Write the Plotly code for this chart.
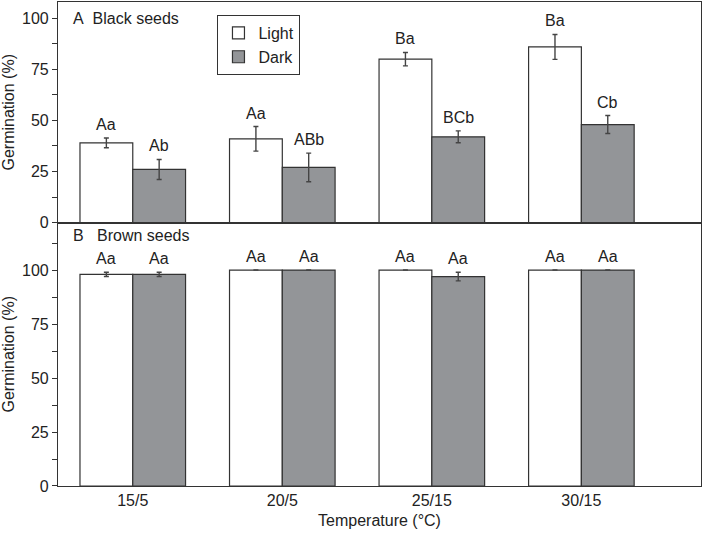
import plotly.graph_objects as go

# temperature regimes
temps = ["15/5", "20/5", "25/15", "30/15"]

# panel A: black seeds
black_light = [39, 41, 80, 86]
black_light_err = [2.4, 6, 3.3, 6.1]
black_dark = [26, 27, 42, 48]
black_dark_err = [4.9, 7, 2.9, 4.4]
black_light_lbl = ["Aa", "Aa", "Ba", "Ba"]
black_dark_lbl = ["Ab", "ABb", "BCb", "Cb"]

# panel B: brown seeds
brown_light = [98, 100, 100, 100]
brown_light_err = [1, None, None, None]
brown_dark = [98, 100, 97, 100]
brown_dark_err = [1, None, 2, None]
brown_light_lbl = ["Aa", "Aa", "Aa", "Aa"]
brown_dark_lbl = ["Aa", "Aa", "Aa", "Aa"]

FONT = "Liberation Sans, Arial, Helvetica, sans-serif"
GREY = "#939598"
EDGE = "#333333"
W = 0.353  # bar width in category units

xpos = list(range(len(temps)))
x_light = [i - W / 2 for i in xpos]
x_dark = [i + W / 2 for i in xpos]

fig = go.Figure()


def add_bars(yl, el, yd, ed, xa, ya, show):
    fig.add_trace(go.Bar(
        x=x_light, y=yl, width=W, name="Light", showlegend=show,
        marker=dict(color="white", line=dict(color=EDGE, width=1.2)),
        error_y=dict(type="data", array=el, color="#444", thickness=1.4, width=2.5),
        xaxis=xa, yaxis=ya))
    fig.add_trace(go.Bar(
        x=x_dark, y=yd, width=W, name="Dark", showlegend=show,
        marker=dict(color=GREY, line=dict(color=EDGE, width=1.2)),
        error_y=dict(type="data", array=ed, color="#444", thickness=1.4, width=2.5),
        xaxis=xa, yaxis=ya))


add_bars(black_light, black_light_err, black_dark, black_dark_err, "x", "y", True)
add_bars(brown_light, brown_light_err, brown_dark, brown_dark_err, "x2", "y2", False)

ann = []


def add_labels(xs, ys, es, lbls, xa, ya):
    for x, y, e, t in zip(xs, ys, es, lbls):
        ann.append(dict(x=x, y=y + (e or 0), xref=xa, yref=ya, text=t, showarrow=False,
                        yanchor="bottom", yshift=3, font=dict(family=FONT, size=16, color="#222")))


add_labels(x_light, black_light, black_light_err, black_light_lbl, "x", "y")
add_labels(x_dark, black_dark, black_dark_err, black_dark_lbl, "x", "y")
add_labels(x_light, brown_light, brown_light_err, brown_light_lbl, "x2", "y2")
add_labels(x_dark, brown_dark, brown_dark_err, brown_dark_lbl, "x2", "y2")

ann.append(dict(x=0.02, y=1, xref="x domain", yref="y domain", yshift=-16, xanchor="left",
                yanchor="middle", showarrow=False, text="A\u00a0\u00a0Black seeds",
                font=dict(family=FONT, size=16, color="#222")))
ann.append(dict(x=0.02, y=1, xref="x2 domain", yref="y2 domain", yshift=-13, xanchor="left",
                yanchor="middle", showarrow=False, text="B\u00a0\u00a0\u00a0Brown seeds",
                font=dict(family=FONT, size=16, color="#222")))

axis_common = dict(showline=True, linecolor=EDGE, linewidth=1.2, mirror=True,
                   showgrid=False, zeroline=False)
yaxis_common = dict(axis_common, ticks="outside", ticklen=5, tickwidth=1, tickcolor=EDGE,
                    tickvals=[0, 25, 50, 75, 100],
                    minor=dict(ticks="outside", ticklen=5, tickcolor=EDGE, dtick=12.5, tick0=0),
                    title=dict(text="Germination (%)", font=dict(family=FONT, size=16, color="#222"),
                               standoff=10),
                    tickfont=dict(family=FONT, size=16, color="#222"))

fig.update_layout(
    width=703, height=534,
    margin=dict(l=57, r=1, t=1, b=48),
    paper_bgcolor="white", plot_bgcolor="white",
    barmode="overlay",
    showlegend=True,
    legend=dict(x=0.248, y=0.973, xanchor="left", yanchor="top",
                bordercolor=EDGE, borderwidth=1, bgcolor="white",
                font=dict(family=FONT, size=16, color="#222"), tracegroupgap=0),
    xaxis=dict(axis_common, domain=[0, 1], range=[-0.5, 3.8], anchor="y",
               showticklabels=False, ticks="", tickvals=xpos),
    xaxis2=dict(axis_common, domain=[0, 1], range=[-0.5, 3.8], anchor="y2",
                tickvals=xpos, ticktext=temps, ticks="",
                tickfont=dict(family=FONT, size=16, color="#222"),
                title=dict(text="Temperature (°C)", font=dict(family=FONT, size=16, color="#222"),
                           standoff=6)),
    yaxis=dict(yaxis_common, domain=[0.5443, 1], range=[0, 108], anchor="x"),
    yaxis2=dict(yaxis_common, domain=[0, 0.5443], range=[0, 122], anchor="x2"),
    annotations=ann,
    font=dict(family=FONT, size=16, color="#222"),
)

fig.write_html("out.html", config={"displayModeBar": False},
               post_script="document.body.style.margin='0';document.body.style.overflow='hidden';")
